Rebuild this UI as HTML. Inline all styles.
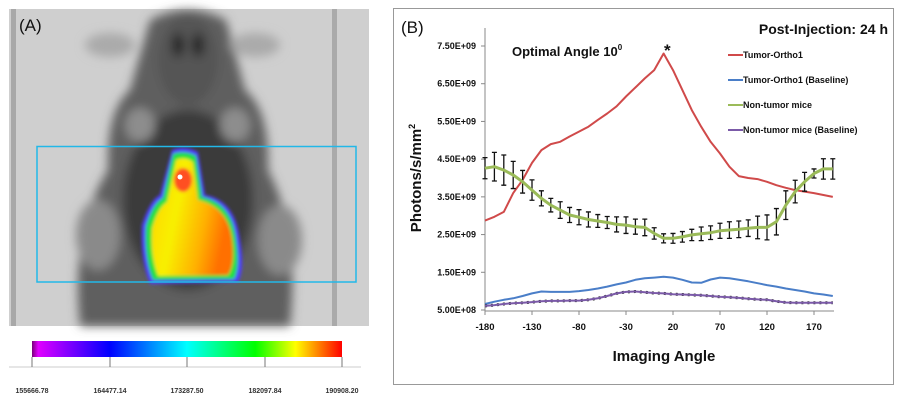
<!DOCTYPE html>
<html><head><meta charset="utf-8"><style>
body{margin:0;background:#fff;width:904px;height:405px;overflow:hidden;font-family:"Liberation Sans",Arial,sans-serif}
</style></head><body>
<svg width="904" height="405" viewBox="0 0 904 405" xmlns="http://www.w3.org/2000/svg">
<defs>
<filter id="bl" x="-20%" y="-20%" width="140%" height="140%"><feGaussianBlur stdDeviation="5"/></filter>
<filter id="bl2"><feGaussianBlur stdDeviation="1.5"/></filter>
<linearGradient id="cb" x1="0" x2="1">
<stop offset="0" stop-color="#7a007a"/><stop offset="0.02" stop-color="#e000ff"/><stop offset="0.25" stop-color="#0000ff"/><stop offset="0.5" stop-color="#00ffff"/><stop offset="0.72" stop-color="#00ff00"/><stop offset="0.85" stop-color="#ffff00"/><stop offset="1" stop-color="#ff0000"/></linearGradient>
<linearGradient id="hot" x1="0" y1="0" x2="1" y2="0.3"><stop offset="0" stop-color="#ffd000"/><stop offset="0.4" stop-color="#f8f000"/><stop offset="0.75" stop-color="#ffb000"/><stop offset="1" stop-color="#ff7000"/></linearGradient>
</defs>
<g>
<rect x="9" y="9" width="360" height="317" fill="#cfcfcf"/>
<rect x="11" y="9" width="5" height="317" fill="#a8a8a8"/>
<rect x="332" y="9" width="5" height="317" fill="#aaa"/>
<g filter="url(#bl)">
<path d="M150,20 Q188,0 226,20 L245,90 Q270,110 268,170 Q300,230 290,326 L80,326 Q70,230 108,170 Q106,110 130,90 Z" fill="#5e5e5e"/>
<ellipse cx="188" cy="60" rx="30" ry="45" fill="#555"/>
<ellipse cx="178" cy="45" rx="6" ry="12" fill="#222"/><ellipse cx="198" cy="45" rx="6" ry="12" fill="#222"/>
<ellipse cx="188" cy="200" rx="65" ry="90" fill="#3a3a3a"/>
<ellipse cx="98" cy="235" rx="22" ry="35" fill="#8a8a8a"/>
<ellipse cx="280" cy="240" rx="22" ry="35" fill="#8a8a8a"/>
<ellipse cx="140" cy="125" rx="15" ry="17" fill="#8d8d8d"/>
<ellipse cx="235" cy="125" rx="15" ry="17" fill="#8d8d8d"/>
<ellipse cx="110" cy="45" rx="25" ry="12" fill="#aaa"/>
<ellipse cx="255" cy="45" rx="25" ry="12" fill="#aaa"/>
</g>
<g filter="url(#bl2)">
<path d="M172,150 Q185,145 198,152 L205,195 Q235,200 240,240 Q245,270 238,282 L150,284 Q140,260 142,225 Q150,200 160,195 Z" fill="#5040ff"/>
<path d="M173,154 Q185,150 196,156 L202,197 Q232,203 236,240 Q240,268 234,279 L153,280 Q144,258 146,226 Q153,203 163,198 Z" fill="#20e040"/>
<path d="M176,160 Q185,156 193,162 L198,200 Q228,207 232,240 Q235,264 228,275 L158,276 Q150,256 152,228 Q158,207 167,202 Z" fill="url(#hot)"/>
<ellipse cx="183" cy="180" rx="9" ry="12" fill="#ff5020"/>
</g>
<circle cx="180" cy="177" r="2.5" fill="#fff"/>
</g>
<rect x="37" y="146.5" width="319" height="135.5" fill="none" stroke="#22b8e8" stroke-width="1.5"/>
<text x="19" y="31" font-size="17" fill="#111">(A)</text>
<g>
<rect x="32" y="341" width="310" height="16" fill="url(#cb)"/>
<line x1="9" y1="367" x2="361" y2="367" stroke="#ccc"/>
<g stroke="#777"><line x1="32" y1="357" x2="32" y2="367"/><line x1="110" y1="357" x2="110" y2="367"/><line x1="187" y1="357" x2="187" y2="367"/><line x1="265" y1="357" x2="265" y2="367"/><line x1="342" y1="357" x2="342" y2="367"/></g>
<g font-size="7" font-weight="bold" fill="#333" text-anchor="middle">
<text x="32" y="393">155666.78</text><text x="110" y="393">164477.14</text><text x="187" y="393">173287.50</text><text x="265" y="393">182097.84</text><text x="342" y="393">190908.20</text></g>
</g>
<rect x="393.5" y="8.5" width="500" height="376" fill="#fff" stroke="#999"/>
<text x="401" y="33" font-size="17" fill="#111">(B)</text>
<text x="888" y="34" font-size="14" font-weight="bold" text-anchor="end" fill="#111">Post-Injection: 24 h</text>
<text x="512" y="56" font-size="13" font-weight="bold" fill="#111">Optimal  Angle 10<tspan font-size="8" dy="-6">0</tspan></text>
<text x="664" y="56" font-size="17" font-weight="bold" fill="#111">*</text>
<g id="chart"></g>
<text x="664" y="361" font-size="15" font-weight="bold" text-anchor="middle" fill="#111">Imaging Angle</text>
<text transform="translate(421,178) rotate(-90)" font-size="15" font-weight="bold" text-anchor="middle" fill="#111">Photons/s/mm<tspan font-size="9" dy="-6">2</tspan></text>
</svg>
<script>
const angles=[-180,-170,-160,-150,-140,-130,-120,-110,-100,-90,-80,-70,-60,-50,-40,-30,-20,-10,0,10,20,30,40,50,60,70,80,90,100,110,120,130,140,150,160,170,180,190];
const tumor=[2.87,2.97,3.1,3.6,3.95,4.4,4.74,4.9,4.96,5.1,5.23,5.36,5.54,5.71,5.9,6.16,6.4,6.64,6.86,7.3,6.86,6.33,5.8,5.36,4.96,4.65,4.3,4.05,4.0,3.97,3.9,3.81,3.74,3.68,3.64,3.6,3.55,3.5];
const tumorBase=[0.66,0.72,0.77,0.81,0.87,0.94,0.99,0.98,0.98,0.98,1.0,1.03,1.07,1.12,1.18,1.23,1.3,1.34,1.36,1.38,1.36,1.3,1.23,1.22,1.31,1.36,1.34,1.3,1.26,1.21,1.16,1.12,1.07,1.03,0.99,0.94,0.91,0.87];
const nonTumor=[4.26,4.3,4.21,4.08,3.9,3.68,3.46,3.28,3.15,3.02,2.96,2.9,2.86,2.82,2.77,2.75,2.71,2.69,2.53,2.4,2.4,2.44,2.49,2.52,2.55,2.6,2.62,2.64,2.67,2.69,2.69,2.84,3.28,3.64,3.9,4.12,4.24,4.24];
const nonTumorErr=[0.28,0.38,0.4,0.36,0.3,0.27,0.2,0.18,0.22,0.2,0.2,0.2,0.17,0.16,0.2,0.22,0.2,0.22,0.15,0.12,0.13,0.14,0.15,0.18,0.18,0.2,0.22,0.22,0.22,0.3,0.33,0.35,0.38,0.3,0.25,0.12,0.27,0.27];
const nonTumorBase=[0.61,0.63,0.66,0.68,0.69,0.71,0.73,0.74,0.74,0.75,0.75,0.77,0.81,0.87,0.94,0.98,0.99,0.97,0.95,0.94,0.92,0.91,0.9,0.89,0.87,0.85,0.84,0.82,0.8,0.78,0.77,0.73,0.7,0.69,0.69,0.69,0.69,0.69];
const xTicks=[-180,-130,-80,-30,20,70,120,170];
const yTicks=[0.5,1.5,2.5,3.5,4.5,5.5,6.5,7.5];
const yTickLabels=["5.00E+08","1.50E+09","2.50E+09","3.50E+09","4.50E+09","5.50E+09","6.50E+09","7.50E+09"];
const legendNames=["Tumor-Ortho1","Tumor-Ortho1 (Baseline)","Non-tumor mice","Non-tumor mice (Baseline)"];
const legendColors=["#d04a4a","#4a7ec8","#9bbb59","#7b5aa8"];
const NS="http://www.w3.org/2000/svg";
const g=document.getElementById('chart');
const X0=485,X1=814;
function xs(a){return X0+(a+180)/350*(X1-X0);}
function ys(v){return 310-(v-0.5)/7*264;}
function mk(t,at,parent){const e=document.createElementNS(NS,t);for(const k in at)e.setAttribute(k,at[k]);(parent||g).appendChild(e);return e;}
const yax=mk('line',{x1:485,y1:28,x2:485,y2:312,stroke:'#888','stroke-width':1});


const xax=mk('line',{x1:485,y1:311,x2:834,y2:311,stroke:'#888','stroke-width':1});


yTicks.forEach((v,i)=>{
 mk('line',{x1:481,y1:ys(v),x2:485,y2:ys(v),stroke:'#888'});
 const t=mk('text',{x:476,y:ys(v)+3,'font-size':9,'font-weight':'bold','text-anchor':'end',fill:'#111'});
 t.textContent=yTickLabels[i];
 
 
});
xTicks.forEach(a=>{
 mk('line',{x1:xs(a),y1:311,x2:xs(a),y2:315,stroke:'#888'});
 const t=mk('text',{x:xs(a),y:330,'font-size':9.5,'font-weight':'bold','text-anchor':'middle',fill:'#111'});
 t.textContent=a;
 
 
});
function line(vals,color,name,w){
 const d=vals.map((v,i)=>(i?'L':'M')+xs(angles[i]).toFixed(1)+','+ys(v).toFixed(1)).join('');
 const p=mk('path',{d:d,fill:'none',stroke:color,'stroke-width':w||2,'stroke-linejoin':'round'});
 
 
}
line(tumor,legendColors[0],'tumor-ortho1-line',2);
line(tumorBase,legendColors[1],'tumor-baseline-line',2);
const d2=nonTumorBase.map((v,i)=>(i?'L':'M')+xs(angles[i]).toFixed(1)+','+ys(v).toFixed(1)).join('');
mk('path',{d:d2,fill:'none',stroke:'#333','stroke-width':3,'stroke-dasharray':'2,4'});
line(nonTumorBase,legendColors[3],'non-tumor-baseline-line',2);
nonTumor.forEach((v,i)=>{
 const x=xs(angles[i]),e=nonTumorErr[i];
 const b=mk('path',{d:`M${x},${ys(v-e)}L${x},${ys(v+e)}M${x-2.5},${ys(v-e)}L${x+2.5},${ys(v-e)}M${x-2.5},${ys(v+e)}L${x+2.5},${ys(v+e)}`,stroke:'#111','stroke-width':1.3,fill:'none'});
 
 
});
line(nonTumor,legendColors[2],'non-tumor-line',3);
legendNames.forEach((n,i)=>{
 const y=55+i*25;
 mk('line',{x1:728,y1:y,x2:743,y2:y,stroke:legendColors[i],'stroke-width':2});
 const t=mk('text',{x:743,y:y+3,'font-size':9,'font-weight':'bold',fill:'#111'});
 t.textContent=n;
 
 
});
</script>
</body></html>
